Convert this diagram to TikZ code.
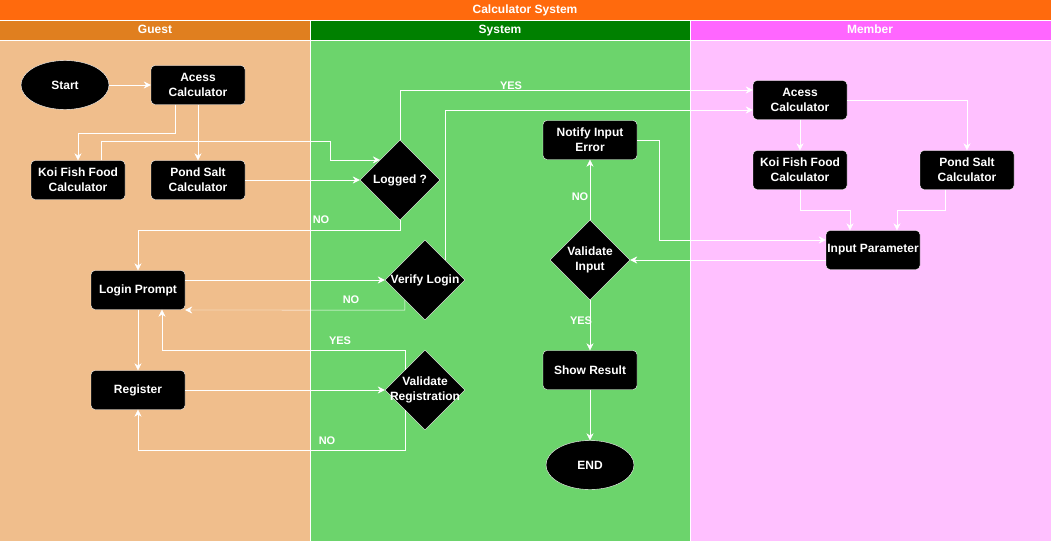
\documentclass[tikz,border=0pt]{standalone}
\usepackage{fontspec}
\setmainfont{Liberation Sans}
\usetikzlibrary{shapes.geometric,arrows.meta}

\definecolor{titleorange}{HTML}{FF6A0D}
\definecolor{guesthead}{HTML}{E07F1F}
\definecolor{guestbody}{HTML}{F0BE8C}
\definecolor{systemhead}{HTML}{008000}
\definecolor{systembody}{HTML}{6CD46C}
\definecolor{memberhead}{HTML}{FF66FF}
\definecolor{memberbody}{HTML}{FFC0FF}

\newcommand{\zerowide}[1]{\makebox[0pt]{\begin{tabular}{@{}c@{}}#1\end{tabular}}}

\begin{document}
\begin{tikzpicture}[x=1pt,y=-1pt,
  box/.style={draw=white,fill=black,rounded corners=4pt,minimum width=94pt,minimum height=39pt,
    inner sep=1pt,align=center,text=white,font=\bfseries\fontsize{12}{15}\selectfont},
  decision/.style={diamond,draw=white,fill=black,minimum width=80pt,minimum height=80pt,
    inner sep=0pt,text=white,font=\bfseries\fontsize{12}{15}\selectfont},
  terminal/.style={ellipse,draw=white,fill=black,minimum width=88pt,minimum height=49pt,
    inner sep=0pt,text=white,font=\bfseries\fontsize{12}{15}\selectfont},
  flow/.style={draw=white,-{Stealth[length=7pt,width=7pt]}},
  answer/.style={text=white,text height=8pt,text depth=2pt,font=\bfseries\fontsize{11}{13}\selectfont},
  lanetitle/.style={text=white,text height=8.7pt,text depth=2.5pt,font=\bfseries\fontsize{12}{14}\selectfont}]
\useasboundingbox (0,0) rectangle (1051,541);

% Lanes
\fill[guestbody] (0,40) rectangle (310,541);
\fill[systembody] (310,40) rectangle (690,541);
\fill[memberbody] (690,40) rectangle (1051,541);
\fill[titleorange] (0,0) rectangle (1051,20);
\fill[guesthead] (0,20) rectangle (310,40);
\fill[systemhead] (310,20) rectangle (690,40);
\fill[memberhead] (690,20) rectangle (1051,40);
\draw[white] (0,20) -- (1051,20);
\draw[white] (0,40) -- (1051,40);
\draw[white] (310,20) -- (310,541);
\draw[white] (690,20) -- (690,541);

\node[lanetitle] (title) at (525,10) {Calculator System};
\node[lanetitle] (guest) at (155,30) {Guest};
\node[lanetitle] (system) at (500,30) {System};
\node[lanetitle] (member) at (870,30) {Member};

% Guest
\node[terminal] (start) at (65,85) {Start};
\node[box] (gacc) at (198,85) {Acess\\Calculator};
\node[box] (gkoi) at (78,180) {Koi Fish Food\\Calculator};
\node[box] (gsalt) at (198,180) {Pond Salt\\Calculator};
\node[box] (login) at (138,290) {Login Prompt};
\node[box] (register) at (138,390) {Register};

% System
\node[decision] (logged) at (400,180) {\zerowide{Logged ?}};
\node[decision] (verify) at (425,280) {\zerowide{Verify Login}};
\node[decision] (valreg) at (425,390) {\zerowide{Validate\\Registration}};
\node[box] (notify) at (590,140) {Notify Input\\Error};
\node[decision] (valin) at (590,260) {\zerowide{Validate\\Input}};
\node[box] (show) at (590,370) {Show Result};
\node[terminal] (finish) at (590,465) {END};

% Member
\node[box] (macc) at (800,100) {Acess\\Calculator};
\node[box] (mkoi) at (800,170) {Koi Fish Food\\Calculator};
\node[box] (msalt) at (967,170) {Pond Salt\\Calculator};
\node[box] (input) at (873,250) {Input Parameter};

% Flow
\draw[flow] (start) -- (gacc);
\draw[flow] ([xshift=-23pt]gacc.south) -- ++(0,28) -| (gkoi.north);
\draw[flow] (gacc) -- (gsalt);
\draw[flow] ([xshift=23pt]gkoi.north) |- (330,141) |- (logged.north west);
\draw[flow] (gsalt.east) -- (logged.west);
\draw[flow] (logged.north) |- ([yshift=10pt]macc.west);
\draw[flow] (logged.south) -- ++(0,10) -| (login.north);
\draw[flow] ([yshift=10pt]login.east) -- (verify.west);
\draw[flow] (verify.south west) -- ++(0,10) -- ([yshift=-20pt]login.east);
\draw[flow] (verify.north east) |- ([yshift=-10pt]macc.west);
\draw[flow] (login) -- (register);
\draw[flow] (register) -- (valreg);
\draw[flow] (valreg.north west) -- ++(0,-20) -| ([xshift=24pt]login.south);
\draw[flow] (valreg.south west) -- ++(0,40) -| (register.south);
\draw[flow] (macc) -- (mkoi);
\draw[flow] (macc.east) -| (msalt.north);
\draw[flow] (mkoi.south) -- ++(0,20) -| ([xshift=-23pt]input.north);
\draw[flow] ([xshift=-22pt]msalt.south) -- ++(0,20) -| ([xshift=24pt]input.north);
\draw[flow] ([yshift=-10pt]input.west) -- (valin.east);
\draw[flow] (notify.east) -- ++(22,0) |- ([yshift=10pt]input.west);
\draw[flow] (valin) -- (notify);
\draw[flow] (valin) -- (show);
\draw[flow] (show) -- (finish);

% Labels
\node[answer] (yeslogged) at (511,86) {YES};
\node[answer] (nologged) at (321,220) {NO};
\node[answer] (noverify) at (351,300) {NO};
\node[answer] (yesvalreg) at (340,341) {YES};
\node[answer] (novalreg) at (327,441) {NO};
\node[answer] (novalin) at (580,197) {NO};
\node[answer] (yesvalin) at (581,321) {YES};
\end{tikzpicture}
\end{document}
